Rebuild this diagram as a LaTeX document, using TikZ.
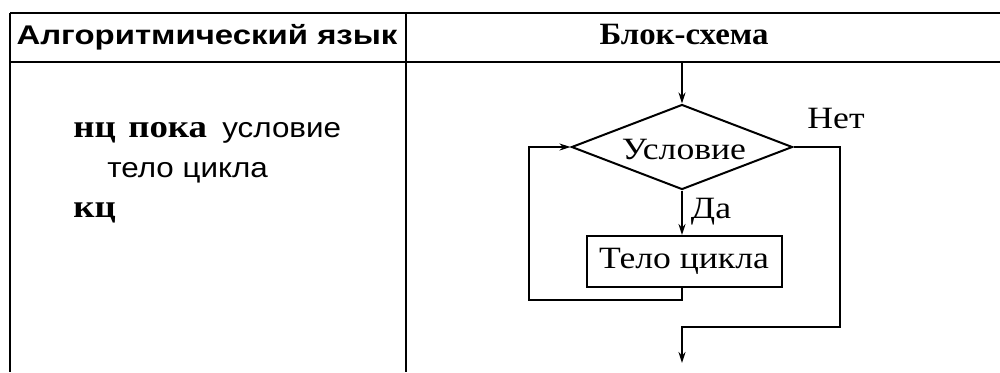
\documentclass[tikz,border=0pt]{standalone}
\usepackage{fontspec}
\setmainfont{Liberation Serif}
\setsansfont{Liberation Sans}
\newfontfamily\serifwide[FakeStretch=1.15]{Liberation Serif}
\newfontfamily\sanswide[FakeStretch=1.12]{Liberation Sans}
\newfontfamily\headsansfont[FakeStretch=1.22]{Liberation Sans}
\newfontfamily\headseriffont[FakeStretch=1.06]{Liberation Serif}
\usetikzlibrary{shapes.geometric,arrows.meta}

\begin{document}
\begin{tikzpicture}[x=0.5pt,y=-0.5pt,
  rule/.style={line width=1pt},
  flow/.style={line width=1pt},
  tip/.style={-{Stealth[length=5.5pt,width=3.5pt]}},
  headsans/.style={font=\headsansfont\bfseries\fontsize{13.5}{15}\selectfont},
  headserif/.style={font=\headseriffont\bfseries\fontsize{15.5}{17}\selectfont},
  code/.style={inner sep=0pt,anchor=base west},
  kw/.style={font=\serifwide\bfseries\fontsize{16}{18}\selectfont},
  plain/.style={font=\sanswide\fontsize{14}{16}\selectfont},
  label/.style={font=\serifwide\fontsize{15.5}{18}\selectfont,inner sep=0pt}]
\useasboundingbox (0,0) rectangle (1000,372);

% table frame
\coordinate (tl) at (10,13);
\coordinate (tr) at (1000,13);
\coordinate (hl) at (10,62);
\coordinate (hr) at (1000,62);
\coordinate (bl) at (10,372);
\coordinate (mt) at (406,13);
\coordinate (mb) at (406,372);
\draw[rule] (tl) -- (tr);
\draw[rule] (hl) -- (hr);
\draw[rule] (tl) -- (bl);
\draw[rule] (mt) -- (mb);

% column headings
\node[headsans,inner sep=0pt,anchor=base] (h1) at (207,44) {Алгоритмический язык};
\node[headserif,inner sep=0pt,anchor=base] (h2) at (684,44) {Блок-схема};

% loop in the algorithmic language
\node[code,kw] (nc) at (73,137) {нц};
\node[code,kw] (poka) at (128,137) {пока};
\node[code,plain] (usl) at (222,137) {условие};
\node[code,plain] (telo) at (107,177) {тело цикла};
\node[code,kw] (kc) at (73,217) {кц};

% flowchart
\coordinate (in) at (682,62);
\node[flow,draw,diamond,shape aspect=2.6,inner sep=0pt,minimum width=110.5pt,minimum height=42.5pt] (cond) at (682,147) {};
\node[flow,draw,rectangle,inner sep=0pt,minimum width=97.5pt,minimum height=25.5pt] (body) at (684.5,261.5) {};
\node[label,anchor=base] (condtext) at (684,159) {Условие};
\node[label,anchor=base] (bodytext) at (684,268) {Тело цикла};
\coordinate (lb) at (529,300);
\coordinate (rb) at (840,327);
\coordinate (out) at (682,363);

\draw[flow,tip] (in) -- (cond.north);
\draw[flow,tip] (cond.south) -- (cond.south |- body.north);
\draw[flow,tip] (cond.south |- body.south) -- (cond.south |- lb) -- (lb) |- (cond.west);
\draw[flow,tip] (cond.east) -| (rb) -- (out |- rb) -- (out);

\node[label,anchor=base] (net) at (836,128) {Нет};
\node[label,anchor=base] (da) at (711,218) {Да};
\end{tikzpicture}
\end{document}
